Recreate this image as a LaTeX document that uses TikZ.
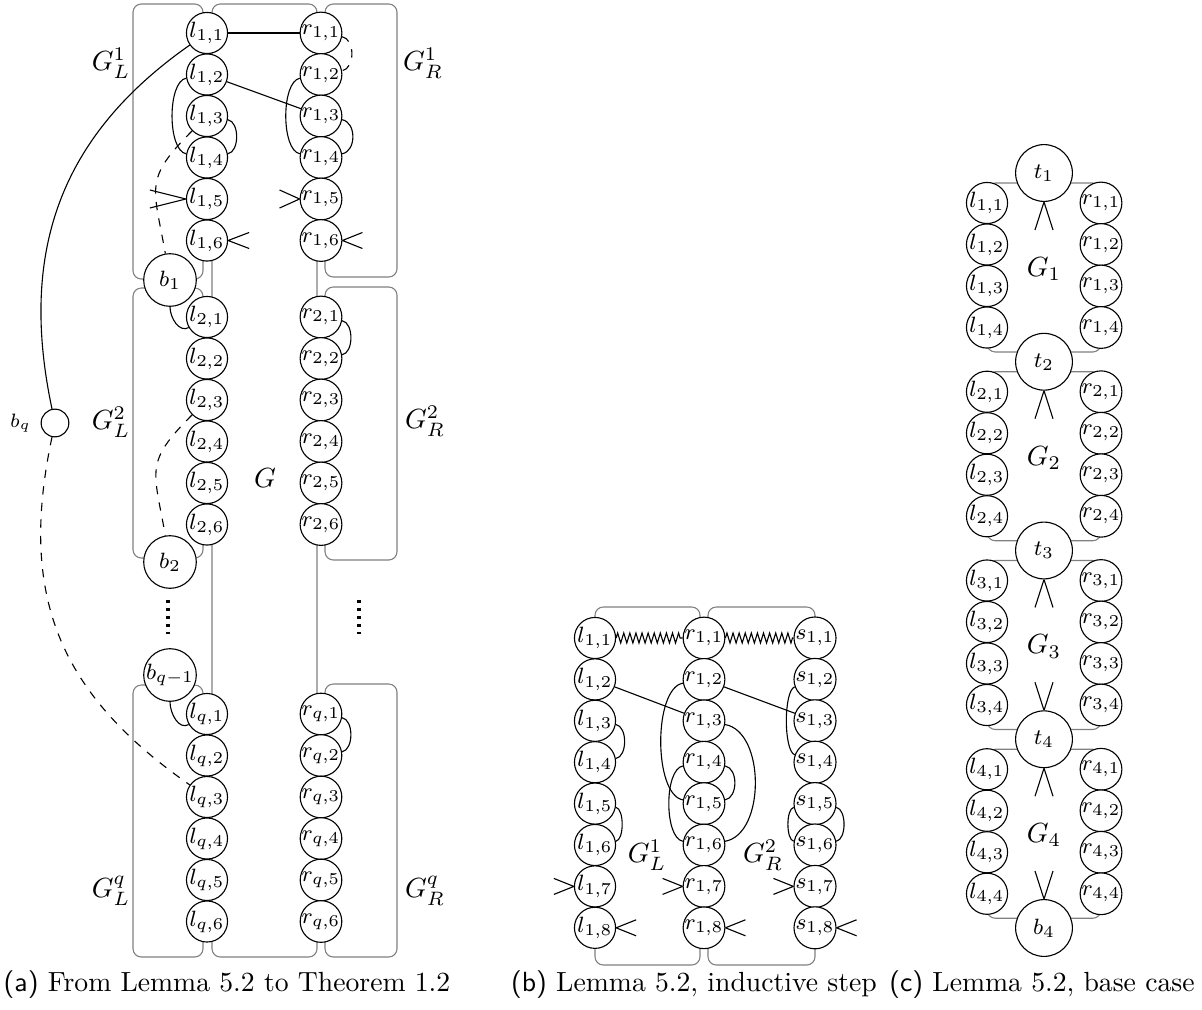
\documentclass[tikz,border=0pt]{standalone}
\usetikzlibrary{decorations.pathmorphing}
\begin{document}
\begin{tikzpicture}[x=0.361pt,y=0.361pt,
    vtx/.style={circle,draw,fill=white,inner sep=0pt,minimum size=13pt,font=\footnotesize},
    bvtx/.style={vtx,minimum size=19pt},
    tvtx/.style={vtx,minimum size=20.5pt},
    svtx/.style={vtx,minimum size=10pt},
    part/.style={draw=gray,rounded corners=3pt},
    arcR/.style={out=-10,in=10,looseness=0.9},
    arcL/.style={out=190,in=170,looseness=0.9},
    zz/.style={decorate,decoration={zigzag,segment length=2.2pt,amplitude=1.8pt}}]
  \useasboundingbox (0,0) rectangle (1202,-1009);

  %% (a) from the lemma to the theorem
  \draw[part] (212,-4) rectangle (317,-957);
  \foreach \t/\b in {4/279,288/558,685/957}
    \draw[part] (133,-\t) rectangle (203,-\b);
  \foreach \t/\b in {4/277,287/560,684/957}
    \draw[part] (325,-\t) rectangle (397,-\b);

  \foreach \g/\y in {1/33,2/317,q/714}
    \foreach \j in {1,...,6} {
      \node[vtx] (l\g\j) at (207,{-\y-41.5*(\j-1)}) {$l_{\g,\j}$};
      \node[vtx] (r\g\j) at (321,{-\y-41.5*(\j-1)}) {$r_{\g,\j}$};
    }
  \node[bvtx] (b1) at (170,-280) {$b_1$};
  \node[bvtx] (b2) at (170,-562) {$b_2$};
  \node[bvtx] (bq1) at (170,-675) {$b_{q-1}$};
  \node[svtx,label={[font=\scriptsize]left:$b_q$}] (bq) at (55,-423) {};

  \node (gl1) at (111,-63) {$G_L^1$};
  \node (gr1) at (423,-63) {$G_R^1$};
  \node (gl2) at (111,-422) {$G_L^2$};
  \node (gr2) at (425,-421) {$G_R^2$};
  \node (gm) at (265,-478) {$G$};
  \node (glq) at (111,-891) {$G_L^q$};
  \node (grq) at (425,-891) {$G_R^q$};
  \draw[line width=1.2pt,dash pattern=on 1.2pt off 1.7pt] (168,-600) -- (168,-634);
  \draw[line width=1.2pt,dash pattern=on 1.2pt off 1.7pt] (359,-600) -- (359,-634);

  \draw (l11) -- (r11);
  \draw[dashed] (r11) to[arcR,looseness=1] (r12);
  \draw (l12) to[arcL,looseness=0.65] (l14);
  \draw (l13) to[arcR] (l14);
  \draw (l12) -- (r13);
  \draw (r12) to[arcL,looseness=0.65] (r14);
  \draw (r13) to[arcR,looseness=1.1] (r14);
  \draw[dashed] (l13) to[out=225,in=100,looseness=1.4] (b1);
  \draw[dashed] (l23) to[out=225,in=100,looseness=1.4] (b2);
  \draw (b1) to[out=-90,in=210] (l21);
  \draw (bq1) to[out=-90,in=210] (lq1);
  \draw (r21) to[arcR] (r22);
  \draw (rq1) to[arcR] (rq2);
  \draw (bq) to[out=102,in=215,looseness=1.05] (l11);
  \draw[dashed] (bq) to[out=-102,in=145,looseness=1.1] (lq3);
  % half edges
  \draw (l15.west) -- +(-36,9) (l15.west) -- +(-36,-9);
  \draw (r15.west) -- +(-20,9) (r15.west) -- +(-20,-9);
  \draw (l16.east) -- +(21,8) (l16.east) -- +(21,-8);
  \draw (r16.east) -- +(20,8) (r16.east) -- +(20,-8);

  %% (b) inductive step
  \draw[part] (595,-607) rectangle (700,-965);
  \draw[part] (708,-607) rectangle (815,-965);
  \foreach \j in {1,...,8} {
    \node[vtx] (il\j) at (595,{-638-41.4*(\j-1)}) {$l_{1,\j}$};
    \node[vtx] (ir\j) at (704,{-638-41.4*(\j-1)}) {$r_{1,\j}$};
    \node[vtx] (is\j) at (815,{-638-41.4*(\j-1)}) {$s_{1,\j}$};
  }
  \node (igl) at (647,-855) {$G_L^1$};
  \node (igr) at (763,-855) {$G_R^2$};
  \draw[zz] (il1) -- (ir1);
  \draw[zz] (ir1) -- (is1);
  \draw (il2) -- (ir3);
  \draw (ir2) -- (is3);
  \draw (il3) to[arcR] (il4);
  \draw (il5) to[arcR,looseness=0.65] (il6);
  \draw (ir2) to[arcL,looseness=0.66] (ir5);
  \draw (ir3) to[arcR] (ir6);
  \draw (ir4) to[arcL,looseness=0.65] (ir6);
  \draw (ir4) to[arcR,looseness=1] (ir5);
  \draw (is2) to[out=200,in=160,looseness=0.45] (is4);
  \draw (is5) to[arcL,looseness=0.6] (is6);
  \draw (is5) to[arcR,looseness=0.8] (is6);
  \foreach \col in {il,ir,is} {
    \draw (\col7.west) -- +(-20,8) (\col7.west) -- +(-20,-8);
    \draw (\col8.east) -- +(20,8) (\col8.east) -- +(20,-8);
  }

  %% (c) base case
  \foreach \i in {1,...,4}
    \draw[part] (987,{-183-188.75*(\i-1)}) rectangle (1101,{-352-188.75*(\i-1)});
  \foreach \i in {1,...,4} {
    \node[tvtx] (t\i) at (1044,{-173-188.75*(\i-1)}) {$t_\i$};
    \node (g\i) at (1044,{-269-188.75*(\i-1)}) {$G_\i$};
    \foreach \j in {1,...,4} {
      \node[vtx] (cl\i\j) at (987,{-203-188.75*(\i-1)-41.5*(\j-1)}) {$l_{\i,\j}$};
      \node[vtx] (cr\i\j) at (1101,{-203-188.75*(\i-1)-41.5*(\j-1)}) {$r_{\i,\j}$};
    }
    \draw (t\i.south) -- +(-9,-28) (t\i.south) -- +(9,-28);
  }
  \node[tvtx] (b4) at (1044,-928) {$b_4$};
  \foreach \n in {t4,b4}
    \draw (\n.north) -- +(-9,28) (\n.north) -- +(9,28);

  %% captions
  \node (capa) at (227,-985) {\textsf{(a)} From Lemma 5.2 to Theorem 1.2};
  \node (capb) at (694,-985) {\textsf{(b)} Lemma 5.2, inductive step};
  \node (capc) at (1042,-985) {\textsf{(c)} Lemma 5.2, base case};
\end{tikzpicture}
\end{document}
